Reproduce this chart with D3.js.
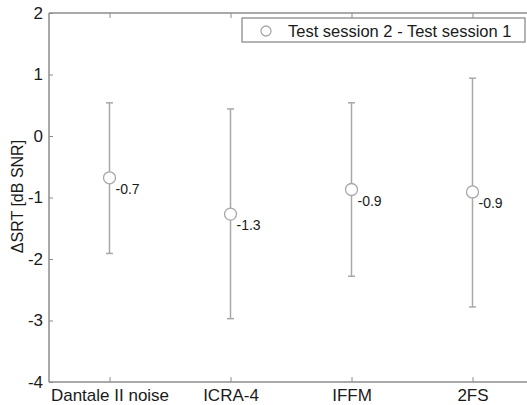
<!DOCTYPE html>
<html><head><meta charset="utf-8">
<script src="https://cdn.jsdelivr.net/npm/d3@7"></script>
<style>body{margin:0;background:#fff}svg{display:block;font-family:"Liberation Sans",Arial,sans-serif}</style>
</head><body>
<svg id="c" width="527" height="405"></svg>
<script>
const categories = ["Dantale II noise","ICRA-4","IFFM","2FS"];
const means = [-0.68, -1.27, -0.87, -0.91];
const upper = [0.54, 0.44, 0.54, 0.94];
const lower = [-1.91, -2.97, -2.28, -2.78];
const valueLabels = ["-0.7","-1.3","-0.9","-0.9"];
const yTicks = [-4,-3,-2,-1,0,1,2];
const legendLabel = "Test session 2 - Test session 1";

const svg = d3.select("#c");
const L = 49, T = 13, B = 382, R = 533;
const x = d3.scaleLinear().domain([0.5, 4.5]).range([L, R]);
const y = d3.scaleLinear().domain([-4, 2]).range([B, T]);
const axisCol = "#8c8c8c", lineCol = "#a8a8a8", textCol = "#1a1a1a";
const FF = "Liberation Sans, Arial, sans-serif";

// frame
svg.append("line").attr("x1",L).attr("x2",L).attr("y1",T).attr("y2",B).attr("stroke",axisCol).attr("stroke-width",1.5);
svg.append("line").attr("x1",L).attr("x2",R).attr("y1",B).attr("y2",B).attr("stroke",axisCol).attr("stroke-width",1.5);
svg.append("line").attr("x1",L).attr("x2",R).attr("y1",T).attr("y2",T).attr("stroke",axisCol).attr("stroke-width",1.5);

// y axis
const ya = svg.append("g").attr("transform",`translate(${L},0)`)
  .call(d3.axisLeft(y).tickValues(yTicks).tickSize(-4).tickPadding(6).tickFormat(d=>String(d)));
ya.select(".domain").remove();
ya.selectAll("line").attr("stroke",axisCol);
ya.selectAll("text").attr("font-size",17).attr("fill",textCol).attr("font-family",FF);

// x axis bottom
const xa = svg.append("g").attr("transform",`translate(0,${B})`)
  .call(d3.axisBottom(x).tickValues([1,2,3,4]).tickSize(-5).tickPadding(7).tickFormat((d,i)=>categories[i]));
xa.select(".domain").remove();
xa.selectAll("line").attr("stroke",axisCol);
xa.selectAll("text").attr("font-size",17).attr("fill",textCol).attr("font-family",FF);
// top ticks
const xt = svg.append("g").attr("transform",`translate(0,${T})`)
  .call(d3.axisTop(x).tickValues([1,2,3,4]).tickSize(-5).tickFormat(""));
xt.select(".domain").remove();
xt.selectAll("line").attr("stroke",axisCol);

// y label
svg.append("text").attr("transform",`translate(23,${(T+B)/2-1}) rotate(-90)`)
  .attr("text-anchor","middle").attr("font-size",16).attr("fill",textCol).text("ΔSRT [dB SNR]");

const data = categories.map((c,i)=>({i:i+1,m:means[i],u:upper[i],l:lower[i],lab:valueLabels[i]}));
const g = svg.append("g");
g.selectAll(".eb").data(data).join("line")
  .attr("x1",d=>x(d.i)).attr("x2",d=>x(d.i)).attr("y1",d=>y(d.u)).attr("y2",d=>y(d.l))
  .attr("stroke",lineCol).attr("stroke-width",1.5);
["u","l"].forEach(k=>{
  g.selectAll(".cap"+k).data(data).join("line")
    .attr("x1",d=>x(d.i)-3.5).attr("x2",d=>x(d.i)+3.5).attr("y1",d=>y(d[k])).attr("y2",d=>y(d[k]))
    .attr("stroke",lineCol).attr("stroke-width",1.5);
});
g.selectAll("circle").data(data).join("circle")
  .attr("cx",d=>x(d.i)).attr("cy",d=>y(d.m)).attr("r",6)
  .attr("fill","#fff").attr("stroke",lineCol).attr("stroke-width",1.3);
g.selectAll(".vl").data(data).join("text")
  .attr("x",d=>x(d.i)+6).attr("y",d=>y(d.m)+16)
  .attr("font-size",14).attr("fill",textCol).text(d=>d.lab);

// legend
const lg = svg.append("g");
lg.append("rect").attr("x",242).attr("y",18).attr("width",283).attr("height",24)
  .attr("fill","#fff").attr("stroke",axisCol).attr("stroke-width",1.3);
lg.append("circle").attr("cx",266).attr("cy",31).attr("r",5).attr("fill","#fff").attr("stroke",lineCol).attr("stroke-width",1.3);
lg.append("text").attr("x",288).attr("y",37).attr("font-size",16.5).attr("fill",textCol).text(legendLabel);
</script>
</body></html>
